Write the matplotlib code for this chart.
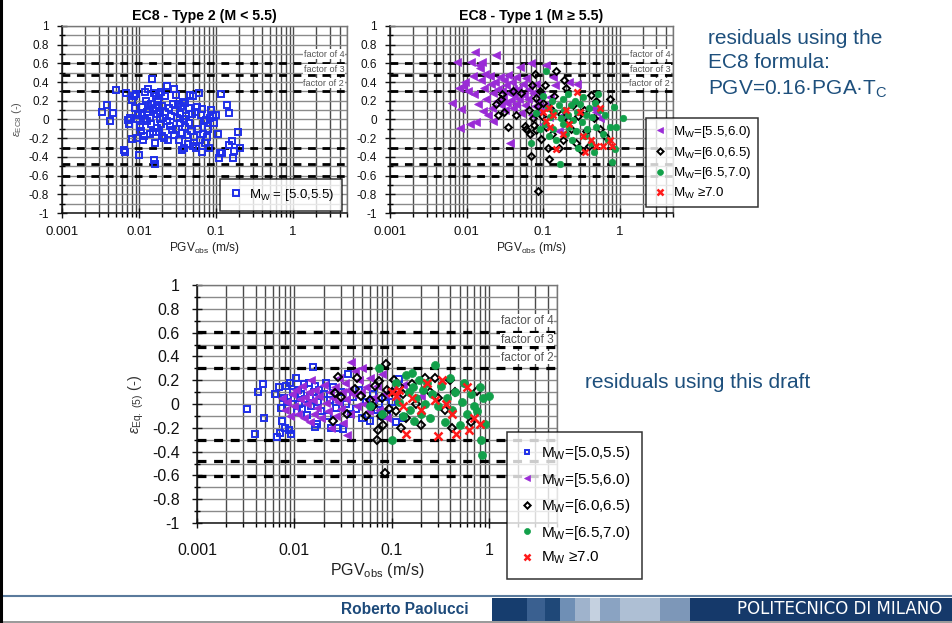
import numpy as np
import matplotlib
matplotlib.use("Agg")
import matplotlib.pyplot as plt
from matplotlib.ticker import LogLocator, MultipleLocator, FuncFormatter, NullFormatter
from matplotlib.patches import Rectangle
from matplotlib.lines import Line2D

plt.rcParams['font.family'] = ['Liberation Sans', 'DejaVu Sans']
plt.rcParams['mathtext.fontset'] = 'custom'
plt.rcParams['mathtext.rm'] = 'Liberation Sans'
plt.rcParams['mathtext.it'] = 'Liberation Sans:italic'
plt.rcParams['mathtext.bf'] = 'Liberation Sans:bold'

# ---------------- data ----------------
# Top-left: EC8 Type 2, Mw in [5.0,5.5)
tl_blue_x = [0.0033,0.0038,0.0042,0.0046,0.0050,0.0063,0.0065,0.0068,0.0072,0.0074,0.0076,0.0080,0.0082,0.0085,0.0088,0.0090,
             0.0093,0.0095,0.0098,0.0100,0.0103,0.0105,0.0108,0.0110,0.0112,0.0115,0.0118,0.0120,0.0122,0.0125,0.0128,0.0130,
             0.0132,0.0135,0.0138,0.0140,0.0142,0.0145,0.0148,0.0150,0.0152,0.0155,0.0158,0.0160,0.0162,0.0165,0.0168,0.0170,
             0.0172,0.0175,0.0178,0.0180,0.0182,0.0185,0.0188,0.0190,0.0195,0.0198,0.0200,0.0205,0.0210,0.0215,0.0220,0.0228,
             0.0232,0.0240,0.0245,0.0250,0.0258,0.0265,0.0272,0.0280,0.0285,0.0292,0.0300,0.0305,0.0312,0.0320,0.0330,0.0335,
             0.0342,0.0350,0.0360,0.0365,0.0372,0.0380,0.0385,0.0392,0.0400,0.0410,0.0420,0.0430,0.0440,0.0450,0.0460,0.0470,
             0.0480,0.0495,0.0505,0.0520,0.0535,0.0550,0.0565,0.0580,0.0600,0.0615,0.0630,0.0650,0.0665,0.0680,0.0700,0.0720,
             0.0740,0.0760,0.0780,0.0800,0.0830,0.0870,0.0900,0.0950,0.1000,0.1060,0.1100,0.1130,0.1160,0.1200,0.1380,0.1480,
             0.1450,0.1600,0.1650,0.1720,0.1950,0.2050]
tl_blue_y = [0.08,0.15,-0.02,0.07,0.32,-0.33,-0.35,0.28,0.00,-0.05,0.02,-0.21,0.21,0.25,0.12,0.27,
             -0.20,0.01,0.05,-0.38,-0.08,-0.12,0.13,0.05,-0.22,-0.18,0.29,0.01,0.20,0.08,-0.02,0.15,
             0.33,0.11,0.02,-0.15,0.17,-0.05,0.43,0.10,-0.13,0.28,-0.43,-0.25,-0.48,0.25,0.12,0.06,
             -0.09,0.20,0.15,-0.13,0.27,0.01,0.09,-0.05,0.29,-0.18,0.14,0.02,-0.20,0.25,0.08,0.36,
             -0.02,-0.22,0.12,-0.07,0.04,-0.11,0.17,0.33,-0.17,0.09,0.26,-0.10,0.02,0.17,-0.22,0.06,
             -0.04,0.14,-0.33,-0.14,0.19,0.01,-0.30,-0.08,0.18,0.04,-0.17,-0.26,0.12,-0.04,0.26,-0.12,
             0.06,-0.28,0.25,-0.19,0.08,-0.30,0.13,-0.10,0.28,-0.22,0.05,-0.35,0.11,-0.16,-0.02,-0.25,
             0.00,-0.19,-0.10,-0.30,0.02,0.10,0.05,-0.04,0.05,-0.15,-0.41,-0.36,0.27,-0.36,0.15,0.07,
             -0.27,-0.23,-0.41,-0.34,-0.13,-0.31]

# Top-right: EC8 Type 1
tr_purple_x = [0.0065,0.0075,0.0080,0.0083,0.0085,0.0090,0.0095,0.0105,0.0110,0.0115,0.0120,0.0125,0.0130,0.0135,0.0140,0.0145,
               0.0150,0.0155,0.0160,0.0165,0.0170,0.0175,0.0180,0.0190,0.0200,0.0210,0.0215,0.0220,0.0225,0.0235,0.0240,0.0250,
               0.0260,0.0270,0.0280,0.0290,0.0300,0.0310,0.0320,0.0330,0.0340,0.0350,0.0360,0.0370,0.0380,0.0390,0.0400,0.0410,
               0.0420,0.0440,0.0450,0.0470,0.0490,0.0500,0.0520,0.0540,0.0560,0.0580,0.0600,0.0630,0.0660,0.0690,0.0720,0.0750,
               0.0780,0.0820,0.0860,0.0900,0.0950,0.1000,0.1050,0.1100,0.1200,0.1250,0.1350,0.1450,0.1600,0.1800,0.2200,0.2800,
               0.4500,0.5000,0.5500]
tr_purple_y = [0.18,0.61,0.34,-0.09,0.11,0.36,0.40,0.30,-0.05,0.62,0.46,0.27,0.72,-0.03,0.17,0.58,
               0.55,0.42,0.61,0.09,0.34,0.49,0.22,0.05,0.46,0.38,0.12,-0.02,0.28,0.40,0.69,0.20,
               0.33,0.45,0.15,0.31,0.23,0.42,0.10,0.37,0.18,0.48,0.28,-0.25,0.21,0.40,0.33,0.12,
               0.26,0.45,0.17,0.33,0.22,0.56,0.07,0.38,0.26,0.16,0.44,0.22,0.33,0.60,0.05,0.28,
               0.14,0.38,0.20,0.09,0.26,-0.05,0.16,0.58,0.03,0.24,0.45,0.37,-0.12,0.05,0.40,0.38,
               0.12,0.08,0.02]
tr_black_x = [0.0240,0.0260,0.0280,0.0290,0.0310,0.0350,0.0400,0.0450,0.0520,0.0580,0.0600,0.0650,0.0680,0.0700,0.0720,0.0740,
              0.0760,0.0780,0.0800,0.0820,0.0850,0.0870,0.0900,0.0930,0.0960,0.1000,0.1050,0.1100,0.1150,0.1200,0.1250,0.1300,
              0.1400,0.1500,0.1600,0.1700,0.1800,0.1900,0.2000,0.2100,0.2300,0.2500,0.2700,0.2900,0.3100,0.3400,0.3700,0.4000,
              0.4300,0.4600,0.5000,0.5500,0.7500,0.6500]
tr_black_y = [0.17,0.05,0.22,0.27,0.08,-0.08,0.30,0.05,0.28,-0.07,-0.10,0.10,-0.16,-0.39,0.37,0.02,
              -0.06,0.49,0.23,-0.11,-0.77,0.14,0.31,-0.21,0.04,0.18,0.37,-0.08,-0.30,-0.42,0.12,-0.15,
              0.25,0.52,-0.30,0.06,-0.22,0.42,0.34,0.00,-0.10,0.15,-0.25,0.04,-0.33,0.10,-0.12,-0.28,
              0.26,0.02,0.20,-0.10,0.22,-0.18]
tr_green_x = [0.0700,0.0800,0.0900,0.1000,0.1050,0.1100,0.1150,0.1200,0.1250,0.1300,0.1350,0.1400,0.1500,0.1600,0.1650,0.1700,
              0.1800,0.1850,0.1900,0.2000,0.2100,0.2150,0.2200,0.2300,0.2400,0.2500,0.2600,0.2700,0.2800,0.2900,0.3000,0.3200,
              0.3300,0.3500,0.3600,0.3800,0.4000,0.4200,0.4400,0.4600,0.4800,0.5000,0.5200,0.5500,0.6000,0.6500,0.7000,0.7500,
              0.8000,0.8500,0.8800,0.9000,1.1000]
tr_green_y = [-0.25,0.07,-0.10,0.25,-0.05,0.52,0.12,-0.18,0.03,0.20,-0.10,0.08,-0.22,0.15,-0.48,0.02,
              0.22,-0.05,0.10,-0.15,0.27,0.05,-0.08,0.15,-0.22,0.00,0.20,-0.12,0.08,-0.30,0.17,-0.03,
              0.24,-0.18,0.05,-0.10,0.12,-0.25,0.03,-0.35,0.18,-0.08,0.27,0.10,-0.15,0.05,-0.22,-0.08,
              -0.45,0.13,-0.32,-0.08,0.02]
tr_red_x = [0.1000,0.1100,0.1200,0.1250,0.1350,0.1500,0.1800,0.2000,0.2200,0.2800,0.3000,0.3300,0.3500,0.4200,0.5000,0.5500,
            0.6000,0.7500,0.8000]
tr_red_y = [0.08,-0.02,0.12,-0.08,0.05,-0.32,-0.15,0.10,-0.05,0.29,0.08,-0.18,-0.35,-0.22,-0.28,0.12,
            -0.28,-0.22,-0.28]

# Bottom: this draft (Eq. 5)
b_blue_x = [0.0033,0.0039,0.0042,0.0048,0.0049,0.0064,0.0066,0.0070,0.0072,0.0073,0.0075,0.0078,0.0080,0.0082,0.0085,0.0088,
            0.0090,0.0093,0.0096,0.0100,0.0103,0.0106,0.0110,0.0113,0.0116,0.0120,0.0125,0.0130,0.0135,0.0140,0.0145,0.0150,
            0.0155,0.0158,0.0162,0.0165,0.0170,0.0175,0.0180,0.0190,0.0200,0.0210,0.0220,0.0230,0.0240,0.0250,0.0265,0.0280,
            0.0300,0.0320,0.0340,0.0360,0.0380,0.0400,0.0430,0.0460,0.0500,0.0550,0.0600,0.0650,0.0700,0.0750,0.0800,0.0850,
            0.0900,0.1000,0.1100,0.1200,0.1300]
b_blue_y = [-0.04,-0.25,0.10,0.17,-0.12,0.08,-0.28,0.14,-0.24,-0.03,-0.14,0.05,-0.20,0.15,0.02,-0.22,
            0.18,-0.25,0.10,0.05,0.22,-0.07,0.12,0.00,0.08,-0.04,0.17,0.04,-0.09,0.18,0.06,-0.02,
            0.31,0.10,-0.19,0.15,-0.17,0.02,0.12,-0.06,0.08,0.18,-0.10,0.03,-0.20,0.14,-0.03,-0.20,
            0.10,-0.21,0.00,0.25,-0.08,0.06,-0.04,0.12,-0.12,0.02,-0.14,0.08,-0.05,0.00,-0.10,0.06,
            -0.08,0.02,-0.15,0.21,-0.12]
b_purple_x = [0.0075,0.0080,0.0085,0.0090,0.0095,0.0100,0.0105,0.0110,0.0115,0.0120,0.0125,0.0130,0.0135,0.0140,0.0145,0.0150,
              0.0155,0.0160,0.0165,0.0170,0.0180,0.0190,0.0200,0.0210,0.0220,0.0230,0.0240,0.0250,0.0260,0.0270,0.0280,0.0290,
              0.0300,0.0310,0.0320,0.0330,0.0340,0.0350,0.0360,0.0370,0.0380,0.0400,0.0420,0.0440,0.0460,0.0480,0.0500,0.0520,
              0.0550,0.0580,0.0600,0.0650,0.0700,0.0750,0.0800,0.0850,0.0900,0.1000,0.1100,0.1300,0.2000,0.5500]
b_purple_y = [0.05,-0.05,0.02,-0.10,0.08,-0.02,0.12,-0.08,0.04,0.15,-0.12,0.06,0.00,0.10,-0.15,0.20,
              0.03,-0.08,0.12,-0.03,0.07,-0.12,0.16,0.01,-0.06,0.10,-0.20,0.05,0.14,-0.10,0.02,0.22,
              -0.04,0.10,-0.16,0.18,0.04,-0.26,0.12,-0.08,0.35,0.08,0.28,-0.02,0.20,0.10,0.30,0.00,
              0.14,-0.06,0.22,0.05,0.15,-0.05,0.25,0.08,-0.12,0.12,0.04,0.16,0.07,0.16]
b_black_x = [0.0250,0.0260,0.0280,0.0300,0.0350,0.0420,0.0440,0.0480,0.0550,0.0600,0.0650,0.0680,0.0700,0.0720,0.0750,0.0780,
             0.0800,0.0820,0.0850,0.0880,0.0900,0.0950,0.1000,0.1050,0.1100,0.1200,0.1250,0.1300,0.1400,0.1600,0.1800,0.2000,
             0.2200,0.2500,0.2800,0.3000,0.3500,0.4000,0.4200,0.4500,0.6500,0.7500]
b_black_y = [-0.14,0.09,0.23,0.06,-0.08,0.13,0.22,0.07,-0.10,0.03,-0.02,0.15,-0.30,-0.22,0.19,-0.10,
             0.05,-0.18,-0.58,0.34,0.12,-0.04,0.10,0.20,-0.06,0.15,-0.20,0.08,-0.12,0.17,0.00,-0.18,
             0.22,0.10,0.22,0.05,-0.05,0.20,-0.20,0.10,-0.15,0.11]
b_green_x = [0.0600,0.0750,0.0800,0.1000,0.1100,0.1200,0.1300,0.1400,0.1500,0.1550,0.1600,0.1650,0.1700,0.1800,0.1900,0.2000,
             0.2100,0.2200,0.2300,0.2500,0.2600,0.2800,0.3000,0.3200,0.3500,0.3700,0.4000,0.4200,0.4500,0.5000,0.5300,0.5600,
             0.6000,0.6500,0.7000,0.7500,0.8000,0.8200,0.8400,0.8600,0.9000,1.0000]
b_green_y = [-0.02,0.30,-0.08,-0.30,0.18,0.02,-0.10,0.24,0.10,-0.05,0.26,0.14,-0.14,0.05,0.20,-0.08,
             0.12,0.00,0.18,-0.12,0.08,0.33,-0.02,0.15,-0.15,0.05,0.22,-0.05,0.10,-0.18,0.02,0.18,
             -0.08,0.08,-0.02,-0.06,0.14,-0.30,-0.43,0.05,-0.17,0.07]
b_red_x = [0.1000,0.1100,0.1200,0.1300,0.1400,0.1600,0.2000,0.2300,0.2800,0.3000,0.3300,0.3600,0.4200,0.4600,0.6000,0.6200,
           0.7000,0.8000]
b_red_y = [0.10,0.07,0.12,-0.02,-0.25,0.05,-0.05,0.18,0.03,-0.27,0.20,0.00,-0.08,-0.25,0.14,-0.22,
           -0.12,-0.17]

factor_levels = [np.log10(2), np.log10(3), np.log10(4)]
factor_labels = ['factor of 2', 'factor of 3', 'factor of 4']
factor_label_y = [0.39, 0.54, 0.70]

BLUE = '#1f2fe8'
PURPLE = '#9a2bd6'
BLACK = '#000000'
GREEN = '#12a04a'
RED = '#ff1a1a'
TXTBLUE = '#1d4f7c'

W, H = 953, 623
fig = plt.figure(figsize=(W / 100, H / 100), dpi=100)


def rect(l, t, r, b):
    return [l / W, 1 - b / H, (r - l) / W, (b - t) / H]


def style_axes(ax, xfs, yfs, xpad, ypad, ffs, lw_scale=1.0):
    ax.set_xscale('log')
    ax.set_xlim(0.001, 5)
    ax.set_ylim(-1, 1)
    ax.xaxis.set_major_locator(LogLocator(base=10, numticks=10))
    ax.xaxis.set_minor_locator(LogLocator(base=10, subs=np.arange(2, 10), numticks=20))
    ax.xaxis.set_major_formatter(FuncFormatter(lambda v, p: f'{v:g}'))
    ax.xaxis.set_minor_formatter(NullFormatter())
    ax.yaxis.set_major_locator(MultipleLocator(0.2))
    ax.yaxis.set_minor_locator(MultipleLocator(0.1))
    ax.yaxis.set_major_formatter(FuncFormatter(lambda v, p: f'{v:g}' if abs(v) > 1e-9 else '0'))
    ax.grid(which='both', axis='x', color='#4a4a4a', lw=1.0, zorder=0)
    ax.grid(which='both', axis='y', color='#8a8a8a', lw=1.0, zorder=0)
    ax.set_axisbelow(True)
    ax.tick_params(axis='both', which='major', direction='inout', length=7, width=1.0, colors='#111')
    ax.tick_params(axis='x', which='major', pad=xpad, labelsize=xfs)
    ax.tick_params(axis='y', which='major', pad=ypad, labelsize=yfs)
    ax.tick_params(axis='y', which='minor', direction='inout', length=5, width=1.0)
    ax.tick_params(axis='x', which='minor', direction='out', length=3, width=1.0)
    for s in ['left', 'bottom']:
        ax.spines[s].set_color('#111')
        ax.spines[s].set_linewidth(1.1)
    for s in ['top', 'right']:
        ax.spines[s].set_color('#777')
        ax.spines[s].set_linewidth(1.0)
    for lev in factor_levels:
        for sgn in (1, -1):
            ax.axhline(sgn * lev, color='black', lw=2.0 * lw_scale, dashes=(2.8, 2.4), zorder=2)
    for lab, yy in zip(factor_labels, factor_label_y):
        ax.text(0.99, (yy + 1) / 2, lab, transform=ax.transAxes, ha='right', va='center',
                fontsize=ffs, color='#555', zorder=2.5,
                bbox=dict(facecolor='white', edgecolor='none', pad=0.3))


def pts(ax, x, y, kind, ms):
    if kind == 'blue':
        return ax.plot(x, y, ls='none', marker='s', ms=ms, mfc='none', mec=BLUE, mew=1.4, zorder=3)[0]
    if kind == 'purple':
        return ax.plot(x, y, ls='none', marker='<', ms=ms * 1.3, mfc=PURPLE, mec=PURPLE, mew=0.5, zorder=3)[0]
    if kind == 'black':
        return ax.plot(x, y, ls='none', marker='D', ms=ms * 0.9, mfc='none', mec=BLACK, mew=1.4, zorder=3)[0]
    if kind == 'green':
        return ax.plot(x, y, ls='none', marker='o', ms=ms * 1.2, mfc=GREEN, mec=GREEN, mew=0.5, zorder=3)[0]
    if kind == 'red':
        return ax.plot(x, y, ls='none', marker='x', ms=ms * 1.1, mec=RED, mew=1.8, zorder=3)[0]


def mw_label(s):
    return r'M$_\mathrm{W}$' + s


def frame(leg):
    leg.get_frame().set_edgecolor('black')
    leg.get_frame().set_linewidth(1.1)
    leg.set_zorder(5)

# ---------- top-left ----------
ax1 = fig.add_axes(rect(62, 26, 347, 213))
style_axes(ax1, 9.5, 8.5, 6, 6, 6.6)
h = pts(ax1, tl_blue_x, tl_blue_y, 'blue', 3.9)
ax1.set_title('EC8 - Type 2 (M < 5.5)', fontsize=10.2, fontweight='bold', pad=4)
ax1.set_xlabel(r'PGV$_\mathrm{obs}$ (m/s)', fontsize=8.6, color='#222', labelpad=1)
ax1.set_ylabel(r'$\varepsilon_\mathrm{EC8}$ (-)', fontsize=8, color='#555', labelpad=3)
leg = ax1.legend([h], [mw_label(' = [5.0,5.5)')], loc='upper right', bbox_to_anchor=(0.982, 0.182),
                 fontsize=9.5, frameon=True, fancybox=False, borderpad=0.6, handletextpad=0.4,
                 handlelength=1.2, borderaxespad=0, markerscale=1.0)
frame(leg)

# ---------- top-right ----------
ax2 = fig.add_axes(rect(390, 26, 673, 213))
style_axes(ax2, 9.5, 8.5, 6, 6, 6.6)
hp = pts(ax2, tr_purple_x, tr_purple_y, 'purple', 3.9)
hb = pts(ax2, tr_black_x, tr_black_y, 'black', 3.9)
hg = pts(ax2, tr_green_x, tr_green_y, 'green', 3.9)
hr = pts(ax2, tr_red_x, tr_red_y, 'red', 3.9)
ax2.set_title('EC8 - Type 1 (M ≥ 5.5)', fontsize=10.2, fontweight='bold', pad=4)
ax2.set_xlabel(r'PGV$_\mathrm{obs}$ (m/s)', fontsize=8.6, color='#222', labelpad=1)
leg2 = ax2.legend([hp, hb, hg, hr],
                  [mw_label('=[5.5,6.0)'), mw_label('=[6.0,6.5)'), mw_label('=[6.5,7.0)'), mw_label(' ≥7.0')],
                  loc='upper left', bbox_to_anchor=(0.905, 0.508), fontsize=9.6, frameon=True,
                  fancybox=False, borderpad=0.45, handletextpad=0.4, handlelength=1.2,
                  labelspacing=0.35, borderaxespad=0, markerscale=0.9)
frame(leg2)

# ---------- bottom ----------
ax3 = fig.add_axes(rect(197, 285, 557, 523))
style_axes(ax3, 11.5, 11.5, 11, 9, 8.6, lw_scale=1.15)
h1 = pts(ax3, b_blue_x, b_blue_y, 'blue', 4.8)
h2 = pts(ax3, b_purple_x, b_purple_y, 'purple', 4.8)
h3 = pts(ax3, b_black_x, b_black_y, 'black', 4.8)
h4 = pts(ax3, b_green_x, b_green_y, 'green', 4.8)
h5 = pts(ax3, b_red_x, b_red_y, 'red', 4.8)
ax3.set_xlabel(r'PGV$_\mathrm{obs}$ (m/s)', fontsize=11.5, color='#222', labelpad=2)
ax3.set_ylabel(r'$\varepsilon_\mathrm{Eq.\ (5)}$ (-)', fontsize=10.5, color='#333', labelpad=4)
leg3 = ax3.legend([h1, h2, h3, h4, h5],
                  [mw_label('=[5.0,5.5)'), mw_label('=[5.5,6.0)'), mw_label('=[6.0,6.5)'),
                   mw_label('=[6.5,7.0)'), mw_label(' ≥7.0')],
                  loc='upper left', bbox_to_anchor=(0.861, 0.382), fontsize=11, frameon=True,
                  fancybox=False, borderpad=0.8, handletextpad=0.4, handlelength=1.0,
                  labelspacing=0.55, borderaxespad=0, markerscale=0.75)
frame(leg3)

# ---------- slide texts ----------
fig.text(708 / W, 1 - 38 / H, 'residuals using the', fontsize=15, color=TXTBLUE, va='center', ha='left')
fig.text(708 / W, 1 - 63 / H, 'EC8 formula:', fontsize=15, color=TXTBLUE, va='center', ha='left')
fig.text(708 / W, 1 - 89 / H, r'PGV=0.16·PGA·T$_\mathrm{C}$', fontsize=15, color=TXTBLUE, va='center', ha='left')
fig.text(585 / W, 1 - 383 / H, 'residuals using this draft', fontsize=15, color=TXTBLUE, va='center', ha='left')

# ---------- footer ----------
fig.add_artist(Line2D([0, 1], [1 - 596 / H, 1 - 596 / H], color='#5a7a9c', lw=1.5, transform=fig.transFigure))
fig.add_artist(Line2D([0, 1], [1 - 621.5 / H, 1 - 621.5 / H], color='#888888', lw=1.2, transform=fig.transFigure))
fig.add_artist(Line2D([1.2 / W, 1.2 / W], [1 - 621 / H, 1], color='black', lw=2.2, transform=fig.transFigure))
bands = [(492, 527, '#163d6e'), (527, 545, '#3a6090'), (545, 560, '#1f4878'), (560, 575, '#6f8fb5'),
         (575, 590, '#9fb3cc'), (590, 600, '#c5d1e0'), (600, 620, '#8aa3c2'), (620, 660, '#aebfd4'),
         (660, 690, '#7d97b8'), (690, 953, '#15396a')]
for l, r, c in bands:
    fig.add_artist(Rectangle((l / W, 1 - 621 / H), (r - l) / W, 23 / H, transform=fig.transFigure,
                             facecolor=c, edgecolor='none'))
fig.text(405 / W, 1 - 609 / H, 'Roberto Paolucci', fontsize=11.2, fontweight='bold', color='#1d4a7a',
         ha='center', va='center')
fig.text(840 / W, 1 - 609.5 / H, 'POLITECNICO DI MILANO', fontsize=12, color='white',
         ha='center', va='center', family=['DejaVu Sans'])

fig.savefig('out.png', dpi=100)
